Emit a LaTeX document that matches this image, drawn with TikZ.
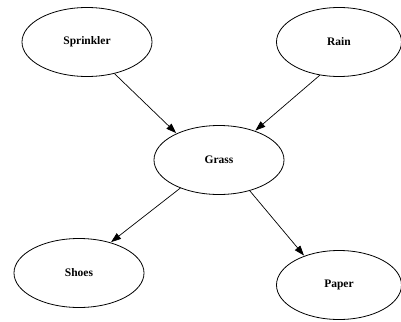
\documentclass[tikz,border=0pt]{standalone}
\usepackage{fontspec}
\setmainfont{Liberation Serif}
\usetikzlibrary{shapes.geometric,arrows.meta}
\begin{document}
\begin{tikzpicture}[x=1pt,y=-1pt,
  var/.style={draw,ellipse,line width=0.8pt,minimum width=130pt,minimum height=69pt,inner sep=0pt,font=\fontsize{11.5}{13}\selectfont\bfseries},
  edge/.style={line width=0.7pt,-{Triangle[length=10pt,width=7pt]},shorten >=0.5pt}]
\useasboundingbox (0,0) rectangle (401,321);
\node[var] (s) at (87,42) {Sprinkler};
\node[var,minimum width=125pt] (r) at (339,42) {Rain};
\node[var] (g) at (219,160) {Grass};
\node[var] (sh) at (79,273) {Shoes};
\node[var,minimum width=125pt] (p) at (339,285) {Paper};
\draw[edge] (s.-49) -- (g.148);
\draw[edge] (r.240) -- (g.39);
\draw[edge] (g.216) -- (sh.44);
\draw[edge] (g.-45) -- (p.140);
\end{tikzpicture}
\end{document}
